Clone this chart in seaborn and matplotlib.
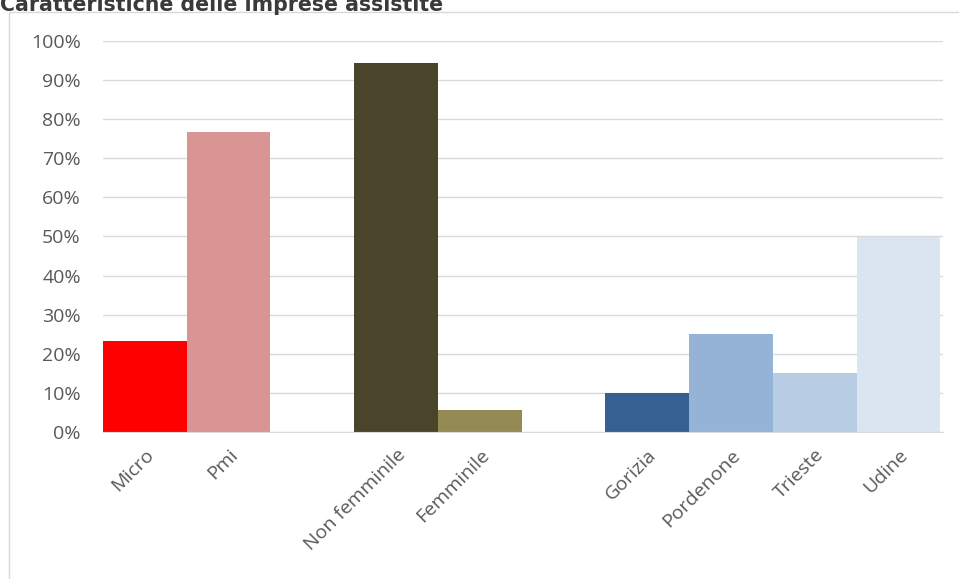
import matplotlib
matplotlib.use('Agg')
import matplotlib.pyplot as plt
import matplotlib.patches as mpatches
import matplotlib.ticker as mtick
import pandas as pd
import seaborn as sns

# data (share of assisted firms)
categories = ["Micro", "Pmi", "Non femminile", "Femminile",
              "Gorizia", "Pordenone", "Trieste", "Udine"]
values = [0.233, 0.767, 0.943, 0.057, 0.10, 0.25, 0.15, 0.50]
colors = ["#FF0000", "#D99594", "#4A452A", "#948A54",
          "#366092", "#95B3D7", "#B8CCE4", "#DBE5F1"]
# empty slots separating the three groups
order = ["Micro", "Pmi", " ", "Non femminile", "Femminile", "  ",
         "Gorizia", "Pordenone", "Trieste", "Udine"]

df = pd.DataFrame({"cat": categories, "val": values})

sns.set_style("white")
plt.rcParams['font.family'] = ['Open Sans', 'DejaVu Sans']

fig = plt.figure(figsize=(9.59, 5.79), dpi=100)
ax = fig.add_axes([103 / 959, (579 - 432) / 579, 840 / 959, 391 / 579])

palette = dict(zip(categories, colors))
sns.barplot(data=df, x="cat", y="val", hue="cat", order=order,
            palette=palette, width=1.0, legend=False, ax=ax,
            saturation=1, edgecolor="none")

ax.set_ylim(0, 1.0)
ax.set_xlim(-0.5, 9.53)
ax.yaxis.set_major_locator(mtick.MultipleLocator(0.1))
ax.yaxis.set_major_formatter(mtick.PercentFormatter(1.0, decimals=0))
ax.grid(axis='y', color='#D9D9D9', linewidth=1)
ax.set_axisbelow(True)
for s in ['top', 'right', 'left']:
    ax.spines[s].set_visible(False)
ax.spines['bottom'].set_color('#D9D9D9')
ax.tick_params(axis='both', length=0, colors='#595959', labelsize=14)
ax.tick_params(axis='y', pad=16)
ax.tick_params(axis='x', pad=10)
ax.set_xlabel("")
ax.set_ylabel("")
plt.setp(ax.get_xticklabels(), rotation=45, ha='right', rotation_mode='anchor')

# chart frame
fig.patches.append(mpatches.Rectangle((9 / 959, -0.01), 1.0, 1 - 12 / 579 + 0.01,
                                      transform=fig.transFigure, fill=False,
                                      edgecolor='#D9D9D9', linewidth=1))
fig.text(0.0, 1 - 11 / 579, "Caratteristiche delle imprese assistite",
         fontsize=14.8, fontweight='bold', color='#3A3A3A',
         va='baseline', ha='left', family=['DejaVu Sans'])

plt.savefig("out.png", dpi=100)
